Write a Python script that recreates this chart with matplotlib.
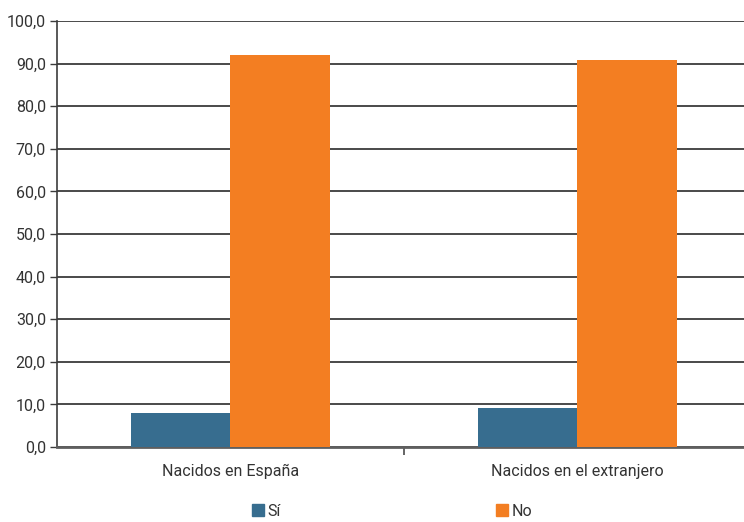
import numpy as np
import matplotlib.pyplot as plt
from matplotlib.patches import Patch

categories = ["Nacidos en España", "Nacidos en el extranjero"]
si_values = [8.0, 9.2]
no_values = [92.0, 90.8]
series_names = ["Sí", "No"]
colors = ["#376d8f", "#f37e22"]

plt.rcParams["font.family"] = ["Roboto", "DejaVu Sans"]
plt.rcParams["text.color"] = "#333333"

fig = plt.figure(figsize=(7.44, 5.22), dpi=100)
ax = fig.add_axes([57 / 744, 1 - 447 / 522, 694 / 744, 426 / 522])

x = np.arange(len(categories))
w = 0.288
ax.bar(x - w / 2, si_values, w, color=colors[0], zorder=3)
ax.bar(x + w / 2, no_values, w, color=colors[1], zorder=3)

ax.set_xlim(-0.5, 1.5)
ax.set_ylim(0, 100)
ax.set_yticks(np.arange(0, 101, 10))
ax.set_yticklabels([f"{v:.1f}".replace(".", ",") for v in np.arange(0, 101, 10)],
                   fontsize=11.5, color="#333333")
ax.yaxis.grid(True, color="#3c3c3c", linewidth=1.3, zorder=0)
ax.set_axisbelow(True)

ax.set_xticks(x)
ax.set_xticklabels(categories, fontsize=11.5, color="#333333")
ax.set_xticks([0.5], minor=True)
ax.tick_params(axis="x", which="major", length=0, pad=12)
ax.tick_params(axis="x", which="minor", length=6, width=1.2, color="#4a4a4a")
ax.tick_params(axis="y", length=5, width=1, color="#3c3c3c", pad=3)

for s in ["top", "right"]:
    ax.spines[s].set_visible(False)
ax.spines["left"].set_color("#3c3c3c")
ax.spines["left"].set_linewidth(1.2)
ax.spines["bottom"].set_color("#5f5f5f")
ax.spines["bottom"].set_linewidth(2)

handles = [Patch(color=c) for c in colors]
fig.legend(handles, series_names, loc="center", bbox_to_anchor=(392 / 744, 1 - 511 / 522),
           ncol=2, frameon=False, fontsize=11.5, handlelength=0.75, handleheight=0.75,
           handletextpad=0.2, columnspacing=13.5)

fig.savefig("out.png", dpi=100)
